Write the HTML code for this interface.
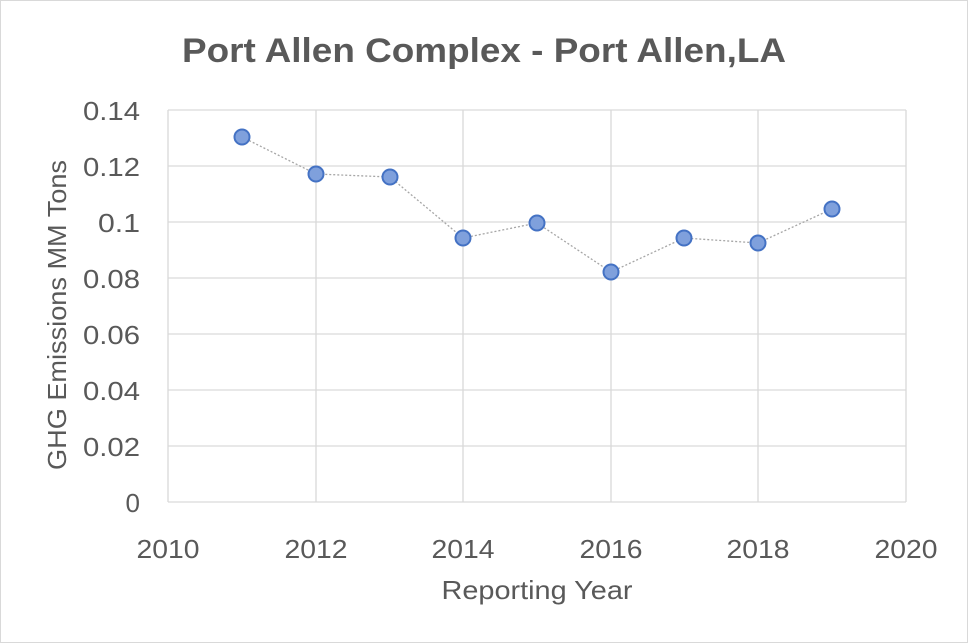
<!DOCTYPE html>
<html><head><meta charset="utf-8"><style>html,body{margin:0;padding:0;background:#fff}svg{display:block}</style></head><body>
<svg width="968" height="643" viewBox="0 0 968 643" xmlns="http://www.w3.org/2000/svg" font-family="Liberation Sans, sans-serif" fill="#595959">
<rect x="0.5" y="0.5" width="967" height="642" fill="#fff" stroke="#d9d9d9"/>
<text x="484" y="62" text-anchor="middle" font-size="34" font-weight="bold" textLength="604" lengthAdjust="spacingAndGlyphs">Port Allen Complex - Port Allen,LA</text>
<g stroke="#d9d9d9" stroke-width="1.3">
<line x1="168" y1="110" x2="906" y2="110"/><line x1="168" y1="166" x2="906" y2="166"/><line x1="168" y1="222" x2="906" y2="222"/><line x1="168" y1="278" x2="906" y2="278"/><line x1="168" y1="334" x2="906" y2="334"/><line x1="168" y1="390" x2="906" y2="390"/><line x1="168" y1="446" x2="906" y2="446"/><line x1="168" y1="502" x2="906" y2="502"/>
<line x1="168" y1="110" x2="168" y2="502"/><line x1="316" y1="110" x2="316" y2="502"/><line x1="463" y1="110" x2="463" y2="502"/><line x1="611" y1="110" x2="611" y2="502"/><line x1="758" y1="110" x2="758" y2="502"/><line x1="906" y1="110" x2="906" y2="502"/>
</g>
<g font-size="26" text-anchor="end">
<text x="140" y="120" textLength="57" lengthAdjust="spacingAndGlyphs">0.14</text><text x="140" y="176" textLength="57" lengthAdjust="spacingAndGlyphs">0.12</text><text x="140" y="232" textLength="42" lengthAdjust="spacingAndGlyphs">0.1</text><text x="140" y="288" textLength="57" lengthAdjust="spacingAndGlyphs">0.08</text><text x="140" y="344" textLength="57" lengthAdjust="spacingAndGlyphs">0.06</text><text x="140" y="400" textLength="57" lengthAdjust="spacingAndGlyphs">0.04</text><text x="140" y="456" textLength="57" lengthAdjust="spacingAndGlyphs">0.02</text><text x="140" y="512">0</text>
</g>
<g font-size="26" text-anchor="middle">
<text x="168" y="558" textLength="63" lengthAdjust="spacingAndGlyphs">2010</text><text x="316" y="558" textLength="63" lengthAdjust="spacingAndGlyphs">2012</text><text x="463" y="558" textLength="63" lengthAdjust="spacingAndGlyphs">2014</text><text x="611" y="558" textLength="63" lengthAdjust="spacingAndGlyphs">2016</text><text x="758" y="558" textLength="63" lengthAdjust="spacingAndGlyphs">2018</text><text x="906" y="558" textLength="63" lengthAdjust="spacingAndGlyphs">2020</text>
</g>
<text x="537" y="599" text-anchor="middle" font-size="26" textLength="191" lengthAdjust="spacingAndGlyphs">Reporting Year</text>
<text transform="translate(66,315) rotate(-90)" text-anchor="middle" font-size="26" textLength="310" lengthAdjust="spacingAndGlyphs">GHG Emissions MM Tons</text>
<polyline fill="none" stroke="#a6a6a6" stroke-width="1.3" stroke-dasharray="2,2" points="242,137 316,174 390,177 463,238 537,223 611,272 684,238 758,243 832,209"/>
<g fill="#7fa0dc" stroke="#4472c4" stroke-width="2">
<circle cx="242" cy="137" r="7.5"/><circle cx="316" cy="174" r="7.5"/><circle cx="390" cy="177" r="7.5"/><circle cx="463" cy="238" r="7.5"/><circle cx="537" cy="223" r="7.5"/><circle cx="611" cy="272" r="7.5"/><circle cx="684" cy="238" r="7.5"/><circle cx="758" cy="243" r="7.5"/><circle cx="832" cy="209" r="7.5"/>
</g>
</svg>
</body></html>
